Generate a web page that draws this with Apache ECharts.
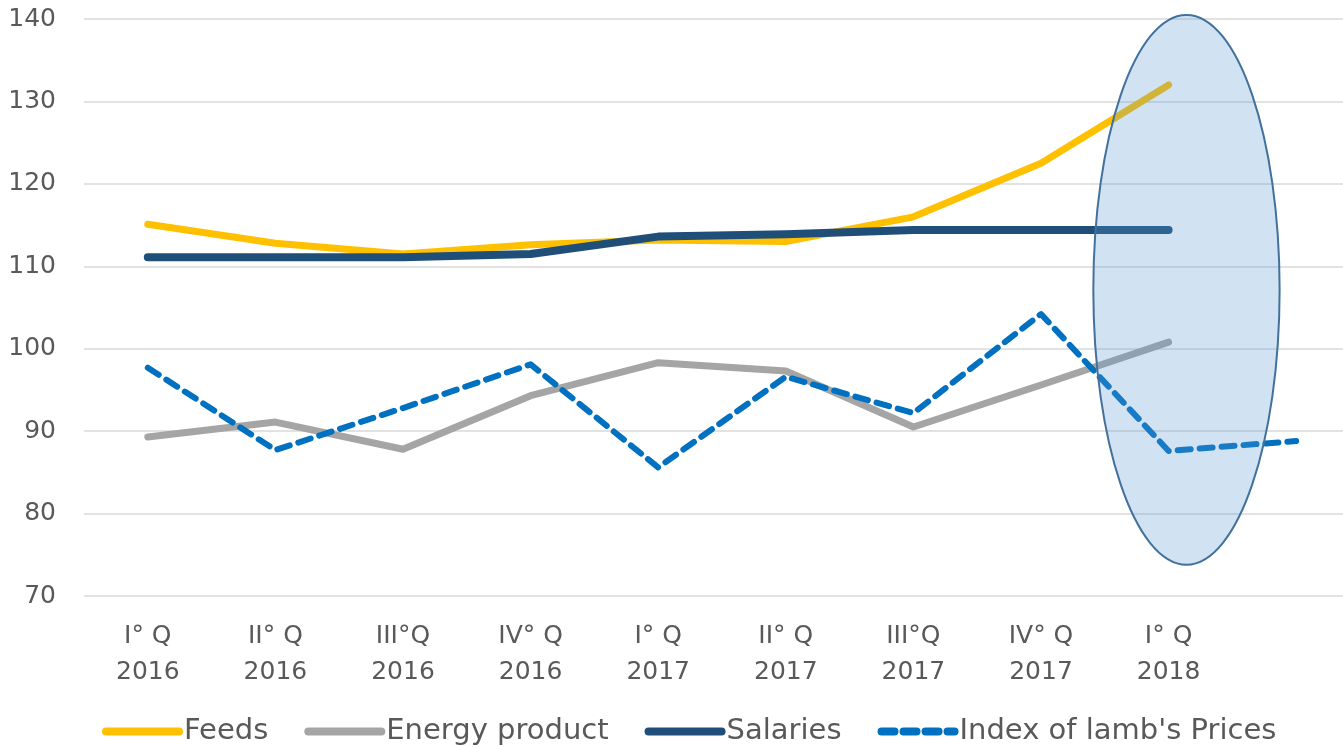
<!DOCTYPE html>
<html>
<head>
<meta charset="utf-8">
<script src="https://cdn.jsdelivr.net/npm/echarts@6/dist/echarts.min.js"></script>
<style>
  html, body { margin: 0; padding: 0; background: #fff; }
  #main { width: 1343px; height: 748px; }
</style>
</head>
<body>
<div id="main"></div>
<script>
var myChart = echarts.init(document.getElementById('main'));

// categories (last slot has no label, only the lamb price index reaches it)
var quarters = ['I° Q\n2016', 'II° Q\n2016', 'III°Q\n2016', 'IV° Q\n2016', 'I° Q\n2017',
                'II° Q\n2017', 'III°Q\n2017', 'IV° Q\n2017', 'I° Q\n2018', ''];
var feeds = [115.1, 112.8, 111.5, 112.6, 113.2, 113.0, 116.0, 122.5, 132.0];
var energy = [89.3, 91.1, 87.8, 94.3, 98.3, 97.3, 90.5, 95.6, 100.8];
var salaries = [111.1, 111.1, 111.1, 111.5, 113.6, 113.9, 114.4, 114.4, 114.4];
var lambPrices = [97.7, 87.7, 92.8, 98.1, 85.6, 96.6, 92.2, 104.2, 87.6, 88.8];
var yTicks = [70, 80, 90, 100, 110, 120, 130, 140];

// highlighted ellipse around the last quarter
var highlightIdx = 8;
var highlightShift = 0.14;   // in category bands
var highlightTop = 140.5;
var highlightBottom = 73.8;
var highlightHalfBands = 0.73;

var font = 'DejaVu Sans';

option = {
    backgroundColor: '#fff',
    animation: false,
    textStyle: { fontFamily: font },
    grid: {
        left: 84,
        right: -17,
        top: 19,
        bottom: 152,
        outerBounds: { left: -20, top: -20, right: -60, bottom: -20 }
    },
    legend: {
        top: 712,
        left: 97,
        itemWidth: 73,
        itemHeight: 12,
        itemGap: 36,
        itemStyle: { opacity: 0 },
        lineStyle: { width: 8 },
        textStyle: { fontSize: 29, color: '#595959', fontFamily: font },
        data: ['Feeds', 'Energy product', 'Salaries', "Index of lamb's Prices"]
    },
    xAxis: {
        type: 'category',
        data: quarters,
        boundaryGap: true,
        axisLine: { show: false },
        axisTick: { show: false },
        axisLabel: {
            interval: 0,
            color: '#595959',
            fontSize: 25,
            lineHeight: 36,
            margin: 22
        }
    },
    yAxis: {
        type: 'value',
        min: yTicks[0],
        max: yTicks[yTicks.length - 1],
        interval: 10,
        axisLine: { show: false },
        axisTick: { show: false },
        axisLabel: {
            color: '#595959',
            fontSize: 25,
            margin: 28
        },
        splitLine: { lineStyle: { color: '#d9d9d9', width: 1.5 } }
    },
    series: [{
        name: 'Feeds',
        type: 'line',
        symbol: 'none',
        data: feeds,
        lineStyle: { color: '#ffc000', width: 7, cap: 'round', join: 'round' },
        itemStyle: { color: '#ffc000' }
    }, {
        name: 'Energy product',
        type: 'line',
        symbol: 'none',
        data: energy,
        lineStyle: { color: '#a5a5a5', width: 7, cap: 'round', join: 'round' },
        itemStyle: { color: '#a5a5a5' }
    }, {
        name: 'Salaries',
        type: 'line',
        symbol: 'none',
        data: salaries,
        lineStyle: { color: '#1f4e79', width: 8, cap: 'round', join: 'round' },
        itemStyle: { color: '#1f4e79' }
    }, {
        name: "Index of lamb's Prices",
        type: 'line',
        symbol: 'none',
        data: lambPrices,
        lineStyle: { color: '#0070c0', width: 6, type: [13, 9], cap: 'round', join: 'round' },
        itemStyle: { color: '#0070c0' }
    }]
};

myChart.setOption(option);

// place the highlight ellipse from axis coordinates
var pTop = myChart.convertToPixel({ gridIndex: 0 }, [highlightIdx, highlightTop]);
var pBot = myChart.convertToPixel({ gridIndex: 0 }, [highlightIdx, highlightBottom]);
var p0 = myChart.convertToPixel({ gridIndex: 0 }, [0, 100]);
var p1 = myChart.convertToPixel({ gridIndex: 0 }, [1, 100]);
var band = p1[0] - p0[0];

myChart.setOption({
    graphic: [{
        type: 'ellipse',
        z: 100,
        shape: {
            cx: pTop[0] + band * highlightShift,
            cy: (pTop[1] + pBot[1]) / 2,
            rx: band * highlightHalfBands,
            ry: (pBot[1] - pTop[1]) / 2
        },
        style: {
            fill: 'rgba(91,155,213,0.28)',
            stroke: '#41719c',
            lineWidth: 2
        }
    }]
});
</script>
</body>
</html>
